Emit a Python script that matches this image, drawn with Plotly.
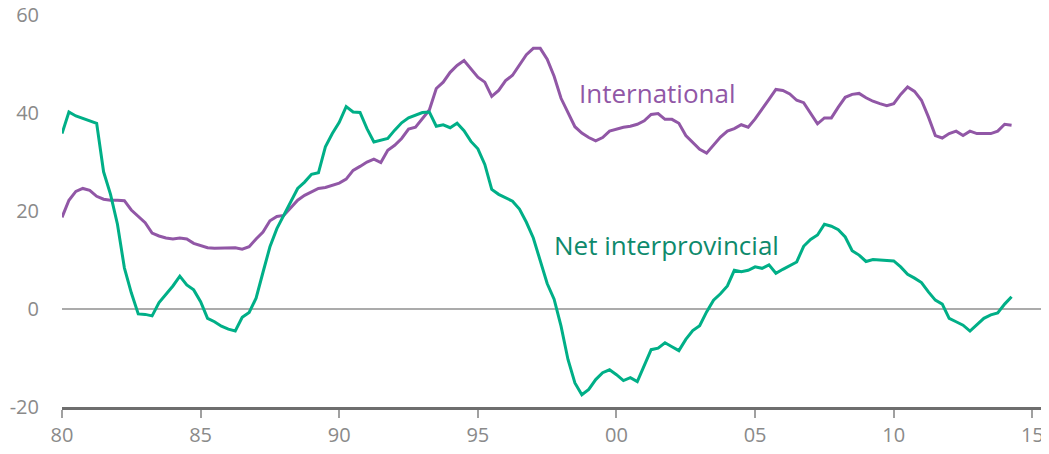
import plotly.graph_objects as go

start_year = 1980.0
quarter = 0.25

net_interprovincial = [
    35.8, 40.2, 39.4, 38.9, 38.5, 37.9, 28.0, 23.4, 17.3, 8.4, 3.3, -1.0,
    -1.1, -1.4, 1.3, 3.0, 4.7, 6.7, 4.9, 3.9, 1.5, -1.9, -2.6, -3.5,
    -4.1, -4.5, -1.7, -0.7, 2.2, 7.5, 12.7, 16.4, 19.2, 21.8, 24.6, 25.9,
    27.5, 27.8, 33.1, 35.8, 38.1, 41.3, 40.2, 40.1, 36.8, 34.1, 34.4, 34.8,
    36.5, 38.0, 39.0, 39.6, 40.1, 40.2, 37.3, 37.6, 37.0, 37.9, 36.4, 34.2,
    32.7, 29.5, 24.4, 23.4, 22.7, 22.0, 20.4, 17.7, 14.5, 10.0, 5.2, 2.0,
    -3.5, -10.3, -15.1, -17.5, -16.4, -14.4, -13.0, -12.4, -13.4, -14.6, -14.0, -14.8,
    -11.4, -8.3, -8.0, -6.9, -7.7, -8.5, -6.2, -4.4, -3.4, -0.6, 1.8, 3.1,
    4.7, 7.9, 7.6, 7.9, 8.6, 8.3, 9.0, 7.3, 8.1, 8.8, 9.6, 12.8,
    14.2, 15.1, 17.3, 16.9, 16.2, 14.7, 11.9, 11.0, 9.7, 10.1, 10.0, 9.8,
    9.8, 8.6, 7.1, 6.3, 5.4, 3.5, 1.8, 1.0, -1.9, -2.6, -3.3, -4.5,
    -3.1, -1.9, -1.2, -0.8, 1.0, 2.5,
]

international = [
    18.7, 22.2, 24.0, 24.6, 24.2, 23.0, 22.4, 22.2, 22.2, 22.1, 20.2, 18.9,
    17.6, 15.5, 14.9, 14.5, 14.3, 14.5, 14.3, 13.4, 13.0, 12.5, 12.4, 12.4,
    12.4, 12.5, 12.2, 12.7, 14.3, 15.7, 18.0, 18.9, 19.1, 20.6, 22.2, 23.2,
    23.9, 24.6, 24.8, 25.3, 25.7, 26.5, 28.3, 29.1, 30.0, 30.6, 29.9, 32.4,
    33.4, 34.8, 36.7, 37.1, 38.8, 40.6, 45.0, 46.3, 48.3, 49.7, 50.7, 49.0,
    47.3, 46.3, 43.4, 44.6, 46.6, 47.7, 49.8, 51.9, 53.2, 53.2, 51.0, 47.5,
    43.0, 40.0, 37.2, 35.9, 35.0, 34.3, 35.0, 36.3, 36.7, 37.1, 37.3, 37.7,
    38.4, 39.7, 39.9, 38.7, 38.7, 37.9, 35.4, 34.0, 32.6, 31.8, 33.4, 35.1,
    36.3, 36.8, 37.6, 37.1, 38.8, 40.9, 42.8, 44.8, 44.6, 43.9, 42.6, 42.1,
    39.9, 37.8, 39.0, 39.0, 41.2, 43.2, 43.8, 44.0, 43.1, 42.4, 41.9, 41.5,
    41.9, 43.8, 45.3, 44.4, 42.6, 39.2, 35.4, 34.9, 35.8, 36.3, 35.4, 36.3,
    35.8, 35.8, 35.8, 36.3, 37.7, 37.5,
]

x_tick_vals = [1980, 1985, 1990, 1995, 2000, 2005, 2010, 2015]
x_tick_text = ["80", "85", "90", "95", "00", "05", "10", "15"]
y_tick_vals = [-20, 0, 20, 40, 60]
y_tick_text = ["-20", "0", "20", "40", "60"]

label_international = "International"
label_net = "Net interprovincial"

dates = [start_year + i * quarter for i in range(len(international))]

purple = "#9157A6"
green = "#00AF87"
green_text = "#0E8A6C"
gray_text = "#8A8A8A"
font_family = "Open Sans, Noto Sans, sans-serif"

fig = go.Figure()
fig.add_trace(go.Scatter(x=dates, y=international, mode="lines",
                         line=dict(color=purple, width=3), name=label_international,
                         hoverinfo="skip"))
fig.add_trace(go.Scatter(x=dates, y=net_interprovincial, mode="lines",
                         line=dict(color=green, width=3), name=label_net,
                         hoverinfo="skip"))

fig.add_annotation(x=1998.57, y=44.0, text=label_international, showarrow=False,
                   xanchor="left", yanchor="middle",
                   font=dict(family=font_family, size=26, color=purple))
fig.add_annotation(x=1997.67, y=13.0, text=label_net, showarrow=False,
                   xanchor="left", yanchor="middle",
                   font=dict(family=font_family, size=26, color=green_text))

# page body adds an 8px offset, so the figure is sized to the remaining area
fig.update_layout(
    width=1041, height=446,
    margin=dict(l=54, r=0, t=7, b=47),
    paper_bgcolor="white", plot_bgcolor="white",
    showlegend=False,
    font=dict(family=font_family, size=20, color=gray_text),
)
fig.update_xaxes(
    range=[1980, 2015.6],
    tickvals=x_tick_vals, ticktext=x_tick_text,
    showgrid=False, zeroline=False, automargin=False,
    showline=True, linecolor="#6E6E6E", linewidth=2.5,
    ticks="outside", ticklen=8, tickwidth=1.5, tickcolor="#A0A0A0",
    tickfont=dict(size=20, color=gray_text),
)
fig.update_yaxes(
    range=[-20, 60],
    tickvals=y_tick_vals, ticktext=y_tick_text,
    showgrid=False, showline=False, ticks="", automargin=False,
    zeroline=True, zerolinecolor="#ABABAB", zerolinewidth=1.5,
    ticklabelstandoff=22, ticklabeloverflow="allow",
    tickfont=dict(size=20, color=gray_text),
)

fig.write_html("out.html")
